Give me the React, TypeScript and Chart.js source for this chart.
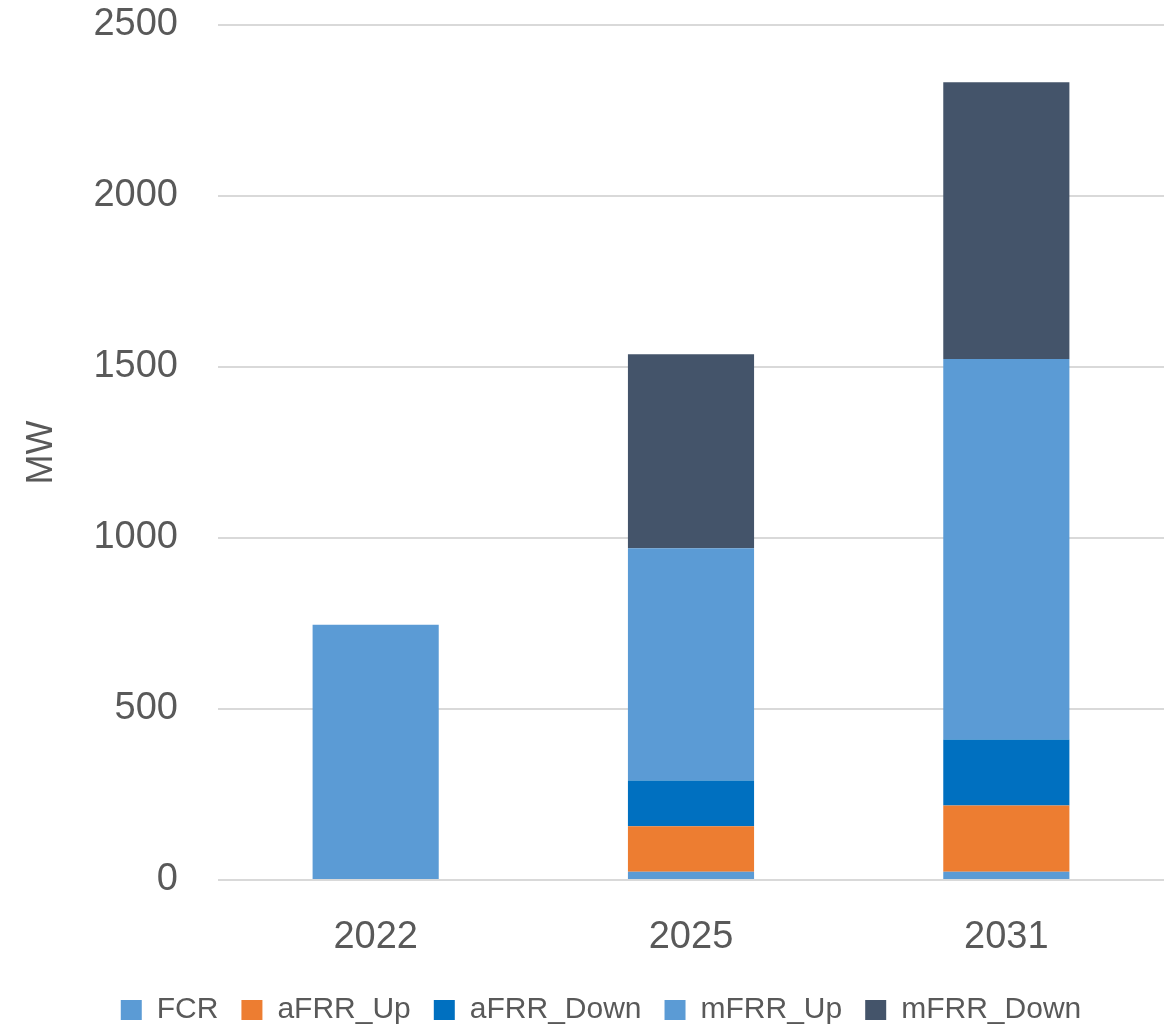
import React, { useEffect, useRef } from "react";
import { Chart, registerables } from "chart.js";

Chart.register(...registerables);

const categories = ["2022", "2025", "2031"];
const fcr = [0, 24, 24];
const afrrUp = [0, 133, 194];
const afrrDown = [0, 134, 193];
const mfrrUp = [746, 679, 1112];
const mfrrDown = [0, 567, 809];
const yTicks = [0, 500, 1000, 1500, 2000, 2500];

const FONT = "'Liberation Sans', Arial, sans-serif";
const TEXT = "#595959";

export default function App() {
  const ref = useRef<HTMLCanvasElement | null>(null);

  useEffect(() => {
    const prev = document.body.style.margin;
    document.body.style.margin = "0";
    if (!ref.current) return;
    const chart = new Chart(ref.current, {
      type: "bar",
      data: {
        labels: categories,
        datasets: [
          { label: "FCR", data: fcr, backgroundColor: "#5B9BD5" },
          { label: "aFRR_Up", data: afrrUp, backgroundColor: "#ED7D31" },
          { label: "aFRR_Down", data: afrrDown, backgroundColor: "#0070C0" },
          { label: "mFRR_Up", data: mfrrUp, backgroundColor: "#5B9BD5" },
          { label: "mFRR_Down", data: mfrrDown, backgroundColor: "#44546A" },
        ],
      },
      options: {
        animation: false,
        responsive: false,
        maintainAspectRatio: false,
        devicePixelRatio: 1,
        layout: { padding: { left: 38, right: 6, top: 0, bottom: 0 } },
        datasets: {
          bar: { barPercentage: 0.4, categoryPercentage: 1.0, borderWidth: 0 },
        },
        plugins: {
          tooltip: { enabled: false },
          legend: {
            position: "bottom",
            align: "center",
            labels: {
              boxWidth: 21,
              boxHeight: 20,
              padding: 23,
              color: TEXT,
              font: { family: FONT, size: 30 },
            },
          },
        },
        scales: {
          x: {
            stacked: true,
            grid: { display: false, drawTicks: false },
            border: { display: false },
            ticks: {
              color: TEXT,
              font: { family: FONT, size: 38 },
              padding: 35,
            },
            afterFit: (s: any) => {
              s.height = 92;
            },
          },
          y: {
            stacked: true,
            min: 0,
            max: 2500,
            afterBuildTicks: (s: any) => {
              s.ticks = yTicks.map((v) => ({ value: v }));
            },
            grid: {
              color: "#D9D9D9",
              lineWidth: 2,
              drawTicks: true,
              tickLength: 38,
              tickColor: "rgba(0,0,0,0)",
            },
            border: { display: false },
            ticks: {
              color: TEXT,
              font: { family: FONT, size: 38 },
              padding: 2,
              callback: (v: any) => String(v),
            },
            title: {
              display: true,
              text: "MW",
              color: TEXT,
              font: { family: FONT, size: 36, lineHeight: 0.2 },
              padding: 0,
            },
            afterFit: (s: any) => {
              s.width = 180;
            },
          },
        },
      },
    });
    return () => {
      chart.destroy();
      document.body.style.margin = prev;
    };
  }, []);

  return (
    <div style={{ width: 1170, height: 1028, overflow: "hidden", position: "relative", background: "#fff" }}>
      <canvas ref={ref} width={1170} height={1035} style={{ display: "block", width: 1170, height: 1035 }} />
    </div>
  );
}
